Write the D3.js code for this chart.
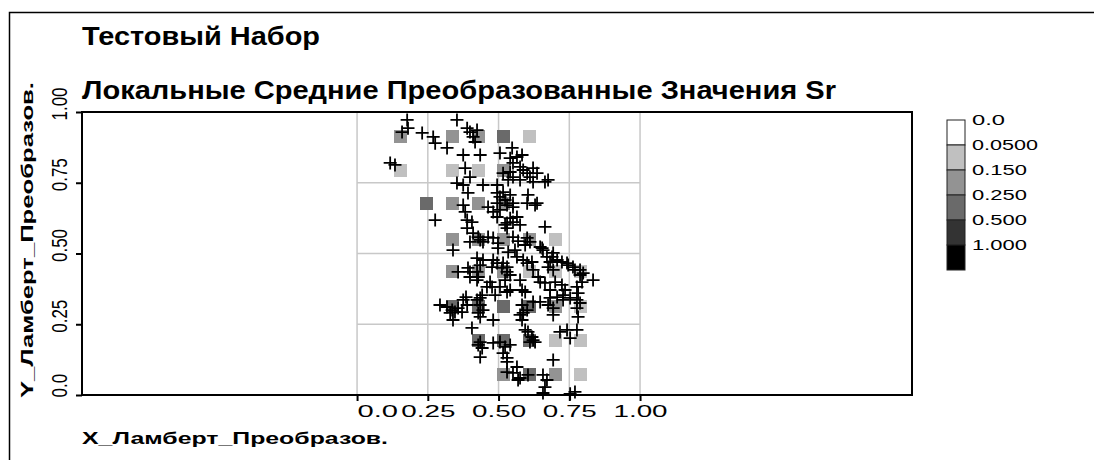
<!DOCTYPE html>
<html><head><meta charset="utf-8">
<script src="https://cdn.jsdelivr.net/npm/d3@7"></script>
<style>body{margin:0;background:#fff}svg{display:block}</style>
</head><body>
<svg id="c" width="1094" height="460"></svg>
<script>
const titleLines = ["Тестовый Набор", "Локальные Средние Преобразованные Значения Sr"];
const xTitle = "X_Ламберт_Преобразов.";
const yTitle = "Y_Ламберт_Преобразов.";
const xTicks = [0, 0.25, 0.5, 0.75, 1.0];
const xTickLabels = ["0.0", "0.25", "0.50", "0.75", "1.00"];
const yTicks = [0, 0.25, 0.5, 0.75, 1.0];
const yTickLabels = ["0.0", "0.25", "0.50", "0.75", "1.00"];
const legendBreaks = [0.05, 0.15, 0.25, 0.5, 1.0];
const legendLabels = ["0.0", "0.0500", "0.150", "0.250", "0.500", "1.000"];
const legendColors = ["#ffffff", "#c0c0c0", "#939393", "#6a6a6a", "#333333", "#000000"];

// local-mean cells (grid squares)
const cellX = [0.155,0.336,0.428,0.519,0.608, 0.155,0.336,0.428,0.519, 0.244,0.336,0.428,0.519,
  0.336,0.428,0.519,0.608,0.700, 0.336,0.428,0.519,0.608,0.700,0.788,
  0.336,0.428,0.519,0.608,0.700,0.788, 0.428,0.519,0.608,0.700,0.788, 0.519,0.608,0.700,0.788];
const cellY = [0.912,0.912,0.912,0.912,0.912, 0.792,0.792,0.792,0.792, 0.675,0.675,0.675,0.675,
  0.551,0.551,0.551,0.551,0.551, 0.435,0.435,0.435,0.435,0.435,0.435,
  0.311,0.311,0.311,0.311,0.311,0.311, 0.194,0.194,0.194,0.194,0.194, 0.074,0.074,0.074,0.074];
const cellValue = [0.2,0.2,0.2,0.3,0.1, 0.1,0.1,0.1,0.2, 0.3,0.2,0.2,0.2,
  0.2,0.2,0.2,0.2,0.1, 0.2,0.2,0.2,0.1,0.1,0.1,
  0.3,0.3,0.3,0.3,0.2,0.1, 0.3,0.3,0.3,0.1,0.1, 0.2,0.3,0.2,0.1];

// sample points
const pointX = [0.177,0.159,0.180,0.230,0.269,0.276,0.318,0.353,0.389,0.399,0.410,0.417,0.424,0.375,0.435,0.117,0.134,0.382,0.399,0.353,0.375,0.392,0.445,0.495,0.505,0.548,0.541,0.565,0.583,0.551,0.576,0.622,0.516,0.541,0.551,0.601,0.611,0.576,0.622,0.664,0.675,0.495,0.516,0.505,0.523,0.551,0.604,0.601,0.636,0.587,0.636,0.534,0.541,
  0.375,0.382,0.276,0.389,0.406,0.389,0.481,0.495,0.530,0.541,0.565,0.530,0.576,0.664,0.410,0.428,0.445,0.481,0.498,0.551,0.601,0.611,0.339,0.534,0.594,0.647,0.693,0.399,0.463,0.495,0.505,0.551,0.629,0.523,0.463,0.435,0.498,0.558,0.569,0.657,0.551,0.530,
  0.424,0.445,0.435,0.481,0.495,0.516,0.530,0.530,0.565,0.587,0.601,0.618,0.654,0.671,0.682,0.707,0.724,0.742,0.763,0.788,0.799,0.834,0.357,0.392,0.399,0.424,0.428,0.470,0.477,0.488,0.459,0.530,0.541,0.576,0.583,0.640,0.647,0.664,0.689,0.675,0.693,0.746,0.770,0.788,0.795,0.700,0.724,0.735,0.682,0.505,0.594,0.777,0.781,0.399,0.424,0.477,0.512,0.523,0.541,0.385,0.435,0.622,
  0.622,0.583,0.601,0.576,0.583,0.682,0.707,0.728,0.647,0.675,0.693,0.693,0.753,0.777,0.788,0.777,0.781,0.742,0.777,0.753,0.293,0.318,0.336,0.346,0.329,0.339,0.357,0.375,0.389,0.371,0.424,0.435,0.445,0.428,0.435,0.481,0.406,0.435,0.428,0.481,0.505,0.523,0.541,0.516,0.530,0.594,0.604,0.618,0.622,0.611,0.629,0.435,0.693,0.565,0.530,0.551,0.604,0.569,0.657,0.671,0.664,0.657,0.770,0.753,0.442,0.442,0.530,0.576,0.587,0.728,0.717];
const pointY = [0.972,0.929,0.943,0.926,0.912,0.890,0.873,0.972,0.943,0.929,0.912,0.894,0.936,0.848,0.848,0.820,0.813,0.802,0.770,0.749,0.742,0.714,0.742,0.742,0.855,0.873,0.837,0.841,0.848,0.820,0.806,0.802,0.784,0.788,0.770,0.784,0.770,0.760,0.753,0.753,0.760,0.714,0.717,0.700,0.689,0.678,0.707,0.678,0.678,0.795,0.784,0.760,0.707,
  0.671,0.647,0.618,0.618,0.611,0.590,0.647,0.629,0.671,0.625,0.629,0.608,0.601,0.594,0.572,0.558,0.541,0.555,0.537,0.558,0.555,0.541,0.512,0.505,0.530,0.523,0.502,0.541,0.664,0.678,0.654,0.664,0.671,0.601,0.558,0.548,0.519,0.512,0.544,0.512,0.611,0.590,
  0.484,0.477,0.459,0.477,0.466,0.466,0.452,0.435,0.488,0.477,0.466,0.470,0.519,0.488,0.470,0.477,0.470,0.466,0.452,0.442,0.431,0.406,0.435,0.449,0.435,0.435,0.417,0.399,0.382,0.353,0.382,0.364,0.371,0.406,0.371,0.417,0.399,0.396,0.488,0.452,0.442,0.459,0.442,0.424,0.399,0.399,0.389,0.371,0.371,0.382,0.364,0.382,0.360,0.417,0.406,0.452,0.449,0.406,0.424,0.346,0.343,0.442,
  0.329,0.318,0.300,0.283,0.265,0.343,0.346,0.336,0.329,0.318,0.307,0.283,0.343,0.336,0.325,0.307,0.276,0.230,0.230,0.201,0.318,0.311,0.300,0.293,0.290,0.265,0.307,0.336,0.318,0.293,0.336,0.318,0.300,0.290,0.276,0.265,0.237,0.187,0.177,0.184,0.187,0.170,0.177,0.148,0.131,0.230,0.223,0.205,0.194,0.187,0.187,0.134,0.124,0.099,0.081,0.078,0.071,0.053,0.071,0.053,0.028,0.007,0.011,0.004,0.353,0.166,0.117,0.060,0.290,0.353,0.223];

const FONT = "'Liberation Sans', Arial, sans-serif";
const svg = d3.select("#c");

const x = d3.scaleLinear().domain([-0.972, 1.961]).range([82, 912]);
const y = d3.scaleLinear().domain([0, 1]).range([395, 112]);
const color = d3.scaleThreshold().domain(legendBreaks).range(legendColors);

// outer frame
svg.append("path").attr("d", "M9.5,460V12.5H1094").attr("fill", "none")
  .attr("stroke", "#000").attr("stroke-width", 1.5);

// titles
const titleY = [45, 99], titleW = [238, 754];
svg.selectAll("text.title").data(titleLines).join("text").attr("class", "title")
  .attr("x", 82).attr("y", (d, i) => titleY[i])
  .attr("font-family", FONT).attr("font-weight", "bold").attr("font-size", 25)
  .attr("textLength", (d, i) => titleW[i]).attr("lengthAdjust", "spacingAndGlyphs")
  .text(d => d);

// grid (only inside 0..1)
const grid = svg.append("g").attr("stroke", "#c8c8c8").attr("stroke-width", 1.5);
grid.selectAll("line.v").data(xTicks).join("line").attr("class", "v")
  .attr("x1", d => x(d)).attr("x2", d => x(d)).attr("y1", y(0)).attr("y2", y(1));
grid.selectAll("line.h").data(yTicks).join("line").attr("class", "h")
  .attr("x1", x(0)).attr("x2", x(1)).attr("y1", d => y(d)).attr("y2", d => y(d));

// cells
const cells = cellX.map((cx, i) => ({x: cellX[i], y: cellY[i], v: cellValue[i]}));
svg.append("g").selectAll("rect").data(cells).join("rect")
  .attr("x", d => x(d.x) - 6.5).attr("y", d => y(d.y) - 6.5)
  .attr("width", 13).attr("height", 13)
  .attr("fill", d => color(d.v)).attr("shape-rendering", "crispEdges");

// points
const pts = pointX.map((px, i) => ({x: pointX[i], y: pointY[i]}));
svg.append("g").selectAll("path").data(pts).join("path")
  .attr("transform", d => `translate(${x(d.x)},${y(d.y)})`)
  .attr("d", "M-6.5,0H6.5M0,-6.5V6.5").attr("stroke", "#000").attr("stroke-width", 1.8).attr("fill", "none");

// plot border
svg.append("rect").attr("x", 82).attr("y", 112).attr("width", 830).attr("height", 283)
  .attr("fill", "none").attr("stroke", "#000").attr("stroke-width", 2);

// axes
const xAxis = svg.append("g").attr("transform", `translate(0,${y(0)})`)
  .call(d3.axisBottom(x).tickValues(xTicks).tickSize(6).tickSizeOuter(0)
    .tickFormat((d, i) => xTickLabels[i]));
xAxis.select(".domain").remove();
xAxis.selectAll("line").attr("stroke", "#000").attr("stroke-width", 2);
xAxis.selectAll("text").attr("y", 22).attr("dy", 0)
  .attr("font-family", FONT).attr("font-size", 16).attr("fill", "#000")
  .attr("text-anchor", (d, i) => i === 0 ? "start" : "middle")
  .attr("textLength", (d, i) => xTickLabels[i].length * 13.5).attr("lengthAdjust", "spacingAndGlyphs");

const yAxis = svg.append("g").attr("transform", `translate(${x.range()[0]},0)`)
  .call(d3.axisLeft(y).tickValues(yTicks).tickSize(6).tickSizeOuter(0)
    .tickFormat((d, i) => yTickLabels[i]));
yAxis.select(".domain").remove();
yAxis.selectAll("line").attr("stroke", "#000").attr("stroke-width", 2);
// rotated labels: start just below the tick, read upward
yAxis.selectAll(".tick").each(function (d) {
  const ty = y(d);
  const start = Math.min(8, y(0) + 2 - ty);
  d3.select(this).select("text").attr("x", 0).attr("y", 0).attr("dy", 0)
    .attr("transform", `translate(-15,${start}) scale(1.35,1) rotate(-90)`)
    .attr("text-anchor", "start");
});
yAxis.selectAll("text").attr("font-family", FONT).attr("font-size", 17).attr("fill", "#000");

// axis titles
svg.append("text").attr("x", 82).attr("y", 444)
  .attr("font-family", FONT).attr("font-weight", "bold").attr("font-size", 17)
  .attr("textLength", 306).attr("lengthAdjust", "spacingAndGlyphs").text(xTitle);
svg.append("text").attr("transform", "translate(33,398) rotate(-90)")
  .attr("font-family", FONT).attr("font-weight", "bold").attr("font-size", 17)
  .attr("textLength", 316).attr("lengthAdjust", "spacingAndGlyphs").text(yTitle);

// legend
const lg = svg.append("g");
lg.selectAll("rect").data(legendColors).join("rect")
  .attr("x", 947).attr("y", (d, i) => 120 + i * 25).attr("width", 18).attr("height", 25)
  .attr("fill", d => d).attr("stroke", "#222").attr("stroke-width", 1);
lg.selectAll("text").data(legendLabels).join("text")
  .attr("x", 972).attr("y", (d, i) => 120 + i * 25).attr("dy", "0.36em")
  .attr("font-family", FONT).attr("font-size", 14)
  .attr("textLength", d => d.length * 11).attr("lengthAdjust", "spacingAndGlyphs")
  .text(d => d);
</script>
</body></html>
